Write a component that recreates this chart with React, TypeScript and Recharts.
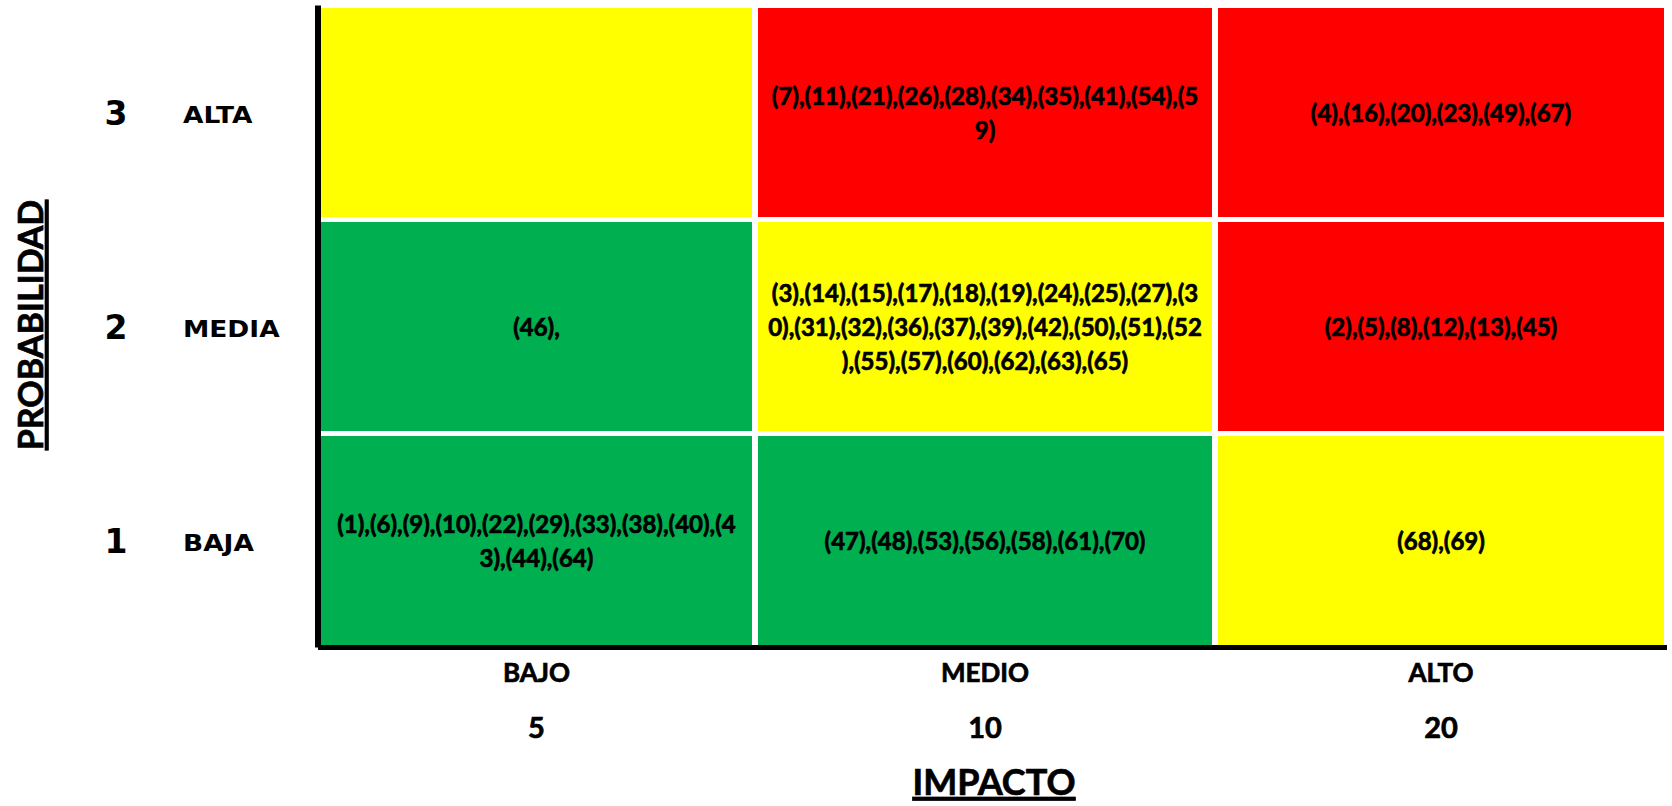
import { ComposedChart, ReferenceArea, XAxis, YAxis } from "recharts";

// Impact runs along the columns, probability up the rows.
const IMPACT_NAMES = ["BAJO", "MEDIO", "ALTO"];
const IMPACT_SCORES = [5, 10, 20];
const PROB_NAMES = ["BAJA", "MEDIA", "ALTA"];
const PROB_SCORES = [1, 2, 3];

// Risk ids sitting in each cell, one entry per impact column.
const RISKS_BAJA = [
  "(1),(6),(9),(10),(22),(29),(33),(38),(40),(43),(44),(64)",
  "(47),(48),(53),(56),(58),(61),(70)",
  "(68),(69)",
];
const RISKS_MEDIA = [
  "(46),",
  "(3),(14),(15),(17),(18),(19),(24),(25),(27),(30),(31),(32),(36),(37),(39),(42),(50),(51),(52),(55),(57),(60),(62),(63),(65)",
  "(2),(5),(8),(12),(13),(45)",
];
const RISKS_ALTA = [
  "",
  "(7),(11),(21),(26),(28),(34),(35),(41),(54),(59)",
  "(4),(16),(20),(23),(49),(67)",
];

// Zone of each cell (low / moderate / high).
const ZONES_BAJA = ["low", "low", "mid"];
const ZONES_MEDIA = ["low", "mid", "high"];
const ZONES_ALTA = ["mid", "high", "high"];

const ZONE_FILL: Record<string, string> = {
  low: "#00B050",
  mid: "#FFFF00",
  high: "#FF0000",
};

// sheet column widths (px) and how many characters fit on a line in each
const COL_WIDTHS = [437, 460, 452];
const WRAP_AT = [44, 46, 46];

const FONT = "Lato, 'Open Sans', sans-serif";
const WIDE_FONT = "'DejaVu Sans', sans-serif";
const GAP_X = 3;
const GAP_Y = 2.5;
const LINE_H = 34;

// a hairline stroke makes Lato Bold read as heavy as the sheet's bold face
const HEAVY = { stroke: "#000", strokeWidth: 0.7 };

const colStarts = COL_WIDTHS.map((_, i) => COL_WIDTHS.slice(0, i).reduce((a, b) => a + b, 0));
const totalWidth = COL_WIDTHS.reduce((a, b) => a + b, 0);
const colCenters = colStarts.map((s, i) => s + COL_WIDTHS[i] / 2);

const rows = [RISKS_BAJA, RISKS_MEDIA, RISKS_ALTA];
const zones = [ZONES_BAJA, ZONES_MEDIA, ZONES_ALTA];

function wrap(text: string, n: number) {
  const out: string[] = [];
  for (let i = 0; i < text.length; i += n) out.push(text.slice(i, i + n));
  return out;
}

function cellShape(text: string, fill: string, wrapAt: number) {
  return (p: any) => {
    const x = p.x + GAP_X;
    const y = p.y + GAP_Y;
    const w = p.width - GAP_X * 2;
    const h = p.height - GAP_Y * 2;
    const lines = wrap(text, wrapAt);
    const cy = y + h / 2 + 1;
    return (
      <g>
        <rect x={x} y={y} width={w} height={h} fill={fill} />
        {lines.map((ln, i) => (
          <text
            key={i}
            x={x + w / 2}
            y={cy + (i - (lines.length - 1) / 2) * LINE_H + 8.5}
            textAnchor="middle"
            fontFamily={FONT}
            fontWeight={700}
            fontSize={24}
            fill="#000"
            {...HEAVY}
          >
            {ln}
          </text>
        ))}
      </g>
    );
  };
}

function ImpactTick(props: any) {
  const i = props.index;
  return (
    <g>
      <text x={props.x} y={682} textAnchor="middle" fontFamily={FONT} fontWeight={700} fontSize={26} fill="#000" {...HEAVY}>
        {IMPACT_NAMES[i]}
      </text>
      <text x={props.x} y={738} textAnchor="middle" fontFamily={FONT} fontWeight={700} fontSize={29} fill="#000" {...HEAVY}>
        {IMPACT_SCORES[i]}
      </text>
    </g>
  );
}

function ProbTick(props: any) {
  const i = props.index;
  return (
    <g>
      <text x={116} y={props.y + 12} textAnchor="middle" fontFamily={WIDE_FONT} fontWeight={700} fontSize={33} fill="#000">
        {PROB_SCORES[i]}
      </text>
      <text
        transform={`translate(183 ${props.y + 10}) scale(1.15 1)`}
        textAnchor="start"
        fontFamily={WIDE_FONT}
        fontWeight={700}
        fontSize={23}
        fill="#000"
      >
        {PROB_NAMES[i]}
      </text>
    </g>
  );
}

function ImpactTitle() {
  return (
    <text x={994} y={795} textAnchor="middle" fontFamily={FONT} fontWeight={700} fontSize={36} fill="#000" textDecoration="underline" {...HEAVY}>
      IMPACTO
    </text>
  );
}

function ProbTitle() {
  return (
    <text
      transform="translate(43, 325) rotate(-90)"
      textAnchor="middle"
      fontFamily={FONT}
      fontWeight={700}
      fontSize={34}
      fill="#000"
      textDecoration="underline"
      {...HEAVY}
    >
      PROBABILIDAD
    </text>
  );
}

export default function App() {
  return (
    <div style={{ position: "absolute", left: 0, top: 0, width: 1672, height: 806, background: "#fff" }}>
      <ComposedChart width={1672} height={806} margin={{ top: 5.5, right: 5, bottom: 0, left: 0 }}>
        <XAxis
          type="number"
          dataKey="x"
          domain={[0, totalWidth]}
          ticks={colCenters}
          interval={0}
          height={158.5}
          axisLine={{ stroke: "#000", strokeWidth: 5 }}
          tickLine={false}
          tick={<ImpactTick />}
          label={<ImpactTitle />}
          allowDataOverflow
        />
        <YAxis
          type="number"
          dataKey="y"
          domain={[0, PROB_SCORES.length]}
          ticks={PROB_SCORES.map((_, i) => i + 0.5)}
          interval={0}
          width={318}
          axisLine={{ stroke: "#000", strokeWidth: 6 }}
          tickLine={false}
          tick={<ProbTick />}
          label={<ProbTitle />}
          allowDataOverflow
        />
        {rows.map((row, r) =>
          row.map((text, c) => (
            <ReferenceArea
              key={`${r}-${c}`}
              x1={colStarts[c]}
              x2={colStarts[c] + COL_WIDTHS[c]}
              y1={r}
              y2={r + 1}
              ifOverflow="visible"
              shape={cellShape(text, ZONE_FILL[zones[r][c]], WRAP_AT[c])}
            />
          )),
        )}
      </ComposedChart>
    </div>
  );
}
